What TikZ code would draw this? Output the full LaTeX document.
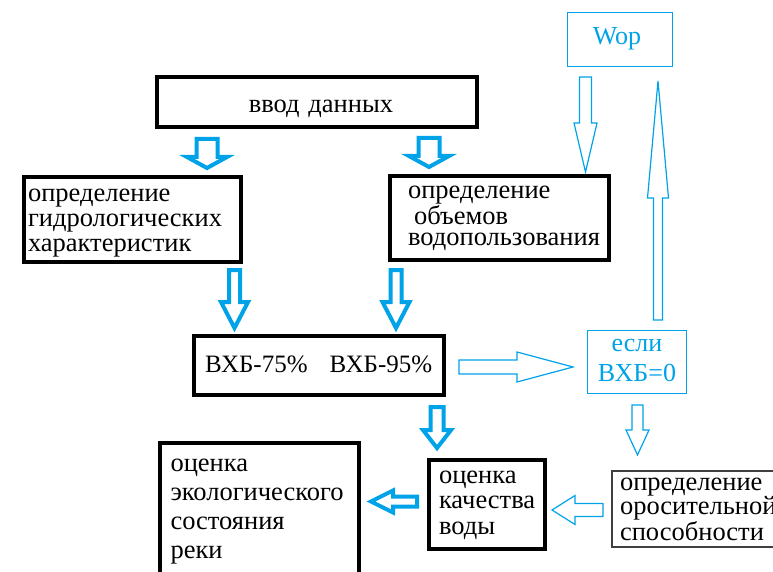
\documentclass[tikz,border=0pt]{standalone}
\usepackage{fontspec}
\setmainfont{Liberation Serif}
\definecolor{paintblue}{RGB}{0,162,232}
\definecolor{framegray}{RGB}{64,64,64}

% hollow block arrow: style, tip coordinate, direction angle,
% total length, half shaft width, half head width, head length
\newcommand\blockarrow[7]{%
  \begin{scope}[shift={(#2)}, rotate=#3]
    \draw[#1] (0,0) -- (-#7,#6) -- (-#7,#5) -- (-#4,#5)
      -- (-#4,-#5) -- (-#7,-#5) -- (-#7,-#6) -- cycle;
  \end{scope}}

\tikzset{
  heavybox/.style={draw=black, line width=4pt, rectangle, inner sep=0pt, outer sep=0pt},
  lightbox/.style={draw=paintblue, line width=1.3pt, rectangle, inner sep=0pt, outer sep=0pt},
  grayframe/.style={draw=framegray, line width=2pt, rectangle, inner sep=0pt, outer sep=0pt},
  heavyarrow/.style={draw=paintblue, line width=4pt, line join=miter},
  lightarrow/.style={draw=paintblue, line width=1.2pt, line join=miter},
  txt/.style={inner sep=0pt, outer sep=0pt, align=left, anchor=base west,
    text width=#1, font=\fontsize{26.5}{25}\selectfont},
  txt/.default=230pt,
  txtc/.style={inner sep=0pt, outer sep=0pt, align=center, anchor=base,
    text width=#1, font=\fontsize{26.5}{25}\selectfont},
  txtc/.default=160pt,
}

\begin{document}
\begin{tikzpicture}[x=1pt, y=-1pt]
  \useasboundingbox (0,0) rectangle (773,572);
  \clip (0,0) rectangle (773,572);

  % frames
  \node[heavybox, minimum width=320pt, minimum height=50pt] (input) at (317,102) {};
  \node[heavybox, minimum width=217pt, minimum height=85pt] (hydro) at (132.5,219.5) {};
  \node[heavybox, minimum width=219pt, minimum height=84pt] (water) at (499.5,218) {};
  \node[lightbox, minimum width=104.5pt, minimum height=53.5pt] (wop) at (620,39.5) {};
  \node[heavybox, minimum width=250pt, minimum height=59pt] (vhb) at (319,365.5) {};
  \node[lightbox, minimum width=98.5pt, minimum height=62.5pt] (cond) at (637,362) {};
  \node[heavybox, minimum width=116pt, minimum height=89pt] (quality) at (487,504.5) {};
  \node[heavybox, minimum width=199pt, minimum height=155pt] (ecology) at (259.5,520.5) {};
  \node[grayframe, minimum width=190pt, minimum height=76pt] (irrig) at (707,509) {};

  % texts
  \node[txtc] (inputtext) at (321,113) {ввод данных};
  \node[txt, font=\fontsize{26.5}{25}\selectfont] (hydrotext) at (28,201.5)
    {определение\\гидрологических\\характеристик};
  \node[txt, font=\fontsize{26.5}{21.2}\selectfont] (watertext) at (408,198.5)
    {определение\\\hspace*{6pt}объемов\\водопользования};
  \node[txtc=100pt, text=paintblue, font=\fontsize{26}{25}\selectfont] (woptext) at (617,45) {Wop};
  \node[txt=260pt, font=\fontsize{25}{25}\selectfont] (vhbtext) at (205,372.7)
    {ВХБ-75\%\hspace{22pt}ВХБ-95\%};
  \node[txtc=100pt, text=paintblue, font=\fontsize{26}{30}\selectfont] (condtext) at (637,351.7)
    {если\\ВХБ=0};
  \node[txt=110pt, font=\fontsize{26.5}{25.5}\selectfont] (qualitytext) at (439,483.3)
    {оценка\\качества\\воды};
  \node[txt=190pt, font=\fontsize{26.5}{29}\selectfont] (ecologytext) at (170.5,471.7)
    {оценка\\экологического\\состояния\\реки};
  \node[txt=200pt, font=\fontsize{26.5}{21.3}\selectfont] (irrigtext) at (620,490)
    {определение\\оросительной\\способности};

  % arrow tips
  \coordinate (tipA) at (207,168);
  \coordinate (tipB) at (429,167);
  \coordinate (tipC) at (234.5,328);
  \coordinate (tipD) at (396,328);
  \coordinate (tipE) at (437,448);
  \coordinate (tipF) at (371,501.5);
  \coordinate (tipG) at (585.5,172);
  \coordinate (tipH) at (658,81);
  \coordinate (tipI) at (573,367);
  \coordinate (tipJ) at (637.5,455);
  \coordinate (tipK) at (552,510);

  % thick blue block arrows
  \blockarrow{heavyarrow}{tipA}{-90}{29}{10.5}{20}{11}
  \blockarrow{heavyarrow}{tipB}{-90}{29}{10.5}{20}{11}
  \blockarrow{heavyarrow}{tipC}{-90}{58}{5.5}{13.5}{26}
  \blockarrow{heavyarrow}{tipD}{-90}{58}{5.5}{13.5}{26}
  \blockarrow{heavyarrow}{tipE}{-90}{41}{6.5}{14}{18}
  \blockarrow{heavyarrow}{tipF}{180}{46}{5}{11}{22}

  % thin blue block arrows
  \blockarrow{lightarrow}{tipG}{-90}{95}{6}{11.5}{49}
  \blockarrow{lightarrow}{tipH}{90}{239}{4.5}{10.5}{117}
  \blockarrow{lightarrow}{tipI}{0}{114}{7}{15}{56}
  \blockarrow{lightarrow}{tipJ}{-90}{50}{5.5}{11.5}{25}
  \blockarrow{lightarrow}{tipK}{180}{51}{6.5}{14.5}{23}
\end{tikzpicture}
\end{document}
